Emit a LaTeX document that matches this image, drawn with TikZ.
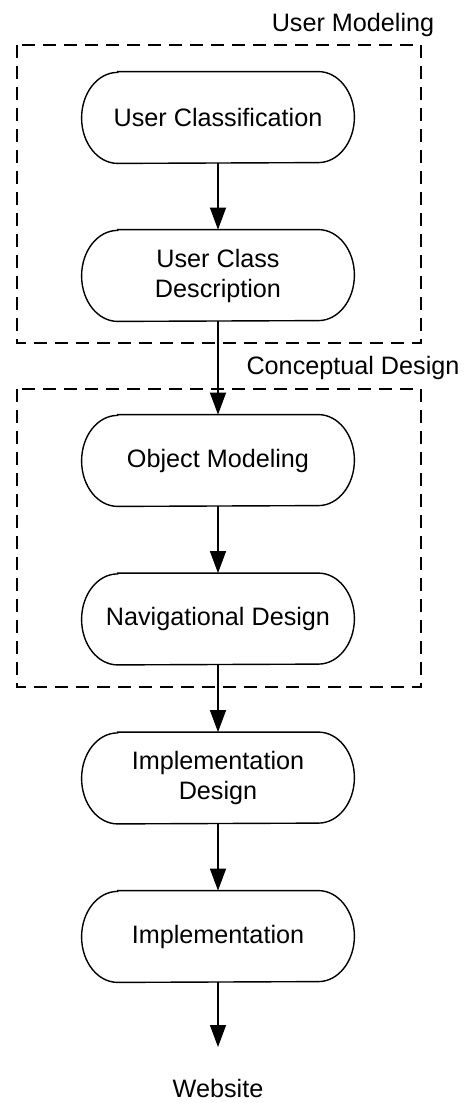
\documentclass[tikz,border=0pt]{standalone}
\usepackage{fontspec}
\setmainfont{Liberation Sans}
\usetikzlibrary{arrows.meta}
\begin{document}
\begin{tikzpicture}[x=0.5pt,y=-0.5pt,
  term/.style={minimum width=136pt,minimum height=45.5pt,inner sep=0pt,align=center,
    font=\fontsize{12.6pt}{15pt}\selectfont},
  termline/.style={line width=0.7pt,black},
  flow/.style={line width=0.7pt,-{Triangle[length=11pt,width=8pt]}},
  groupbox/.style={line width=1pt,dash pattern=on 6.5pt off 4pt},
  grouplabel/.style={font=\fontsize{12.6pt}{15pt}\selectfont,inner sep=0pt}]
\useasboundingbox (0,0) rectangle (465,1103);
% groups
\draw[groupbox] (17,45) rectangle (421,343);
\draw[groupbox] (17,389) rectangle (421,687);
\node[grouplabel] (lum) at (353,25) {User Modeling};
\node[grouplabel] (lcd) at (353,368) {Conceptual Design};
% steps
\node[term] (uc) at (218,117.5) {User Classification};
\node[term] (ucd) at (218,275.5) {User Class\\Description};
\node[term] (om) at (218,460.5) {Object Modeling};
\node[term] (nd) at (218,619) {Navigational Design};
\node[term] (id) at (218,778) {Implementation\\Design};
\node[term] (im) at (218,936.5) {Implementation};
\coordinate (wend) at (218,1047);
\node[grouplabel] (web) at (218,1088) {Website};
\foreach \n in {uc,ucd,om,nd,id,im}
  \draw[termline] ([xshift=18pt]\n.north west) -- ([xshift=-18pt]\n.north east)
    arc[start angle=90,end angle=-90,x radius=18pt,y radius=22.75pt]
    -- ([xshift=18pt]\n.south west)
    arc[start angle=270,end angle=90,x radius=18pt,y radius=22.75pt] -- cycle;
% connectors
\draw[flow] (uc.south) -- (ucd.north);
\draw[flow] (ucd.south) -- (om.north);
\draw[flow] (om.south) -- (nd.north);
\draw[flow] (nd.south) -- (id.north);
\draw[flow] (id.south) -- (im.north);
\draw[flow] (im.south) -- (wend);
\end{tikzpicture}
\end{document}
